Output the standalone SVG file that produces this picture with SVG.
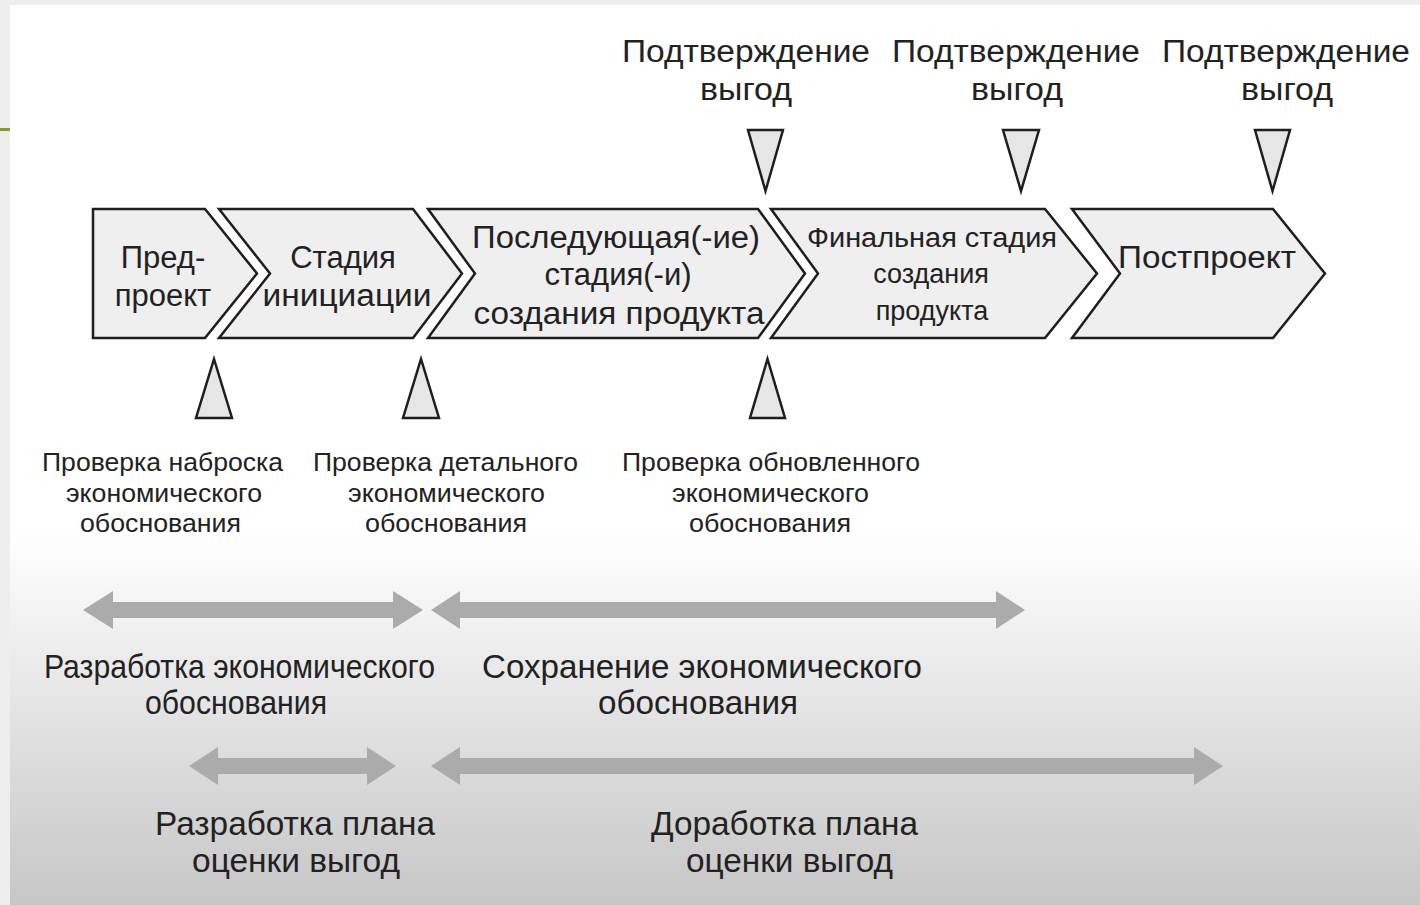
<svg xmlns="http://www.w3.org/2000/svg" width="1420" height="905" viewBox="0 0 1420 905">
<defs>
<linearGradient id="bg" x1="0" y1="530" x2="0" y2="905" gradientUnits="userSpaceOnUse">
<stop offset="0" stop-color="#ffffff"/>
<stop offset="1" stop-color="#c6c6c6"/>
</linearGradient>
<style>
.stage{fill:#efefef;stroke:#1e1e1e;stroke-width:2.5;stroke-linejoin:miter}
.tri{fill:#e6e6e6;stroke:#1e1e1e;stroke-width:2.5;stroke-linejoin:miter}
.arr{fill:#ababab}
text{font-family:"Liberation Sans",Arial,sans-serif;fill:#222;text-anchor:middle}
.st{font-size:31px}
.top{font-size:31px}
.chk{font-size:25px}
.mid{font-size:34px}
</style>
</defs>
<rect x="0" y="0" width="1420" height="905" fill="url(#bg)"/>
<rect x="0" y="0" width="10" height="905" fill="#eeeeee"/>
<rect x="0" y="0" width="1420" height="5" fill="#eeeeee"/>
<rect x="0" y="128" width="10" height="3" fill="#8a9a2a"/>

<g id="stage-preproject">
<polygon class="stage" points="93,209 205,209 257,273.5 205,338 93,338"/>
<text class="st" x="163" y="268">Пред-</text>
<text class="st" x="163" y="306">проект</text>
</g>
<g id="stage-initiation">
<polygon class="stage" points="219,209 413,209 462,273.5 413,338 219,338 270,273.5"/>
<text class="st" x="343" y="268">Стадия</text>
<text class="st" x="347" y="306" textLength="169" lengthAdjust="spacingAndGlyphs">инициации</text>
</g>
<g id="stage-subsequent">
<polygon class="stage" points="428,209 758,209 805,273.5 758,338 428,338 475,273.5"/>
<text class="st" x="616" y="248" textLength="288" lengthAdjust="spacingAndGlyphs">Последующая(-ие)</text>
<text class="st" x="618" y="285">стадия(-и)</text>
<text class="st" x="619" y="324" textLength="291" lengthAdjust="spacingAndGlyphs">создания продукта</text>
</g>
<g id="stage-final">
<polygon class="stage" points="771,209 1045,209 1097,273.5 1045,338 771,338 818,273.5"/>
<text x="932" y="247" font-size="27" textLength="250" lengthAdjust="spacingAndGlyphs">Финальная стадия</text>
<text x="931" y="283" font-size="27">создания</text>
<text x="932" y="320" font-size="27">продукта</text>
</g>
<g id="stage-postproject">
<polygon class="stage" points="1072,209 1273,209 1325,273.5 1273,338 1072,338 1120,273.5"/>
<text class="st" x="1207" y="268" textLength="178" lengthAdjust="spacingAndGlyphs">Постпроект</text>
</g>

<g id="benefit-1">
<polygon class="tri" points="748,130 783,130 765.5,191"/>
<text class="top" x="746" y="62" textLength="248" lengthAdjust="spacingAndGlyphs">Подтверждение</text>
<text class="top" x="746" y="100" textLength="92" lengthAdjust="spacingAndGlyphs">выгод</text>
</g>
<g id="benefit-2">
<polygon class="tri" points="1003,130 1039,130 1021,191"/>
<text class="top" x="1016" y="62" textLength="248" lengthAdjust="spacingAndGlyphs">Подтверждение</text>
<text class="top" x="1017" y="100" textLength="92" lengthAdjust="spacingAndGlyphs">выгод</text>
</g>
<g id="benefit-3">
<polygon class="tri" points="1255,130 1290,130 1272.5,191"/>
<text class="top" x="1286" y="62" textLength="248" lengthAdjust="spacingAndGlyphs">Подтверждение</text>
<text class="top" x="1287" y="100" textLength="92" lengthAdjust="spacingAndGlyphs">выгод</text>
</g>

<g id="check-1">
<polygon class="tri" points="214,359 232,418 196,418"/>
<text class="chk" x="162.5" y="471" textLength="241" lengthAdjust="spacingAndGlyphs">Проверка наброска</text>
<text class="chk" x="164" y="502" textLength="196" lengthAdjust="spacingAndGlyphs">экономического</text>
<text class="chk" x="160.5" y="532" textLength="161" lengthAdjust="spacingAndGlyphs">обоснования</text>
</g>
<g id="check-2">
<polygon class="tri" points="421,359 439,418 403,418"/>
<text class="chk" x="445.5" y="471" textLength="265" lengthAdjust="spacingAndGlyphs">Проверка детального</text>
<text class="chk" x="446.5" y="502" textLength="197" lengthAdjust="spacingAndGlyphs">экономического</text>
<text class="chk" x="446" y="532" textLength="162" lengthAdjust="spacingAndGlyphs">обоснования</text>
</g>
<g id="check-3">
<polygon class="tri" points="767.5,359 785,418 750,418"/>
<text class="chk" x="771" y="471" textLength="298" lengthAdjust="spacingAndGlyphs">Проверка обновленного</text>
<text class="chk" x="770.5" y="502" textLength="197" lengthAdjust="spacingAndGlyphs">экономического</text>
<text class="chk" x="770" y="532" textLength="162" lengthAdjust="spacingAndGlyphs">обоснования</text>
</g>

<g id="connectors">
<polygon class="arr" points="83,610 113,591 113,602 393,602 393,591 423,610 393,629 393,618 113,618 113,629"/>
<polygon class="arr" points="431,610 460,591 460,602 996,602 996,591 1025,610 996,629 996,618 460,618 460,629"/>
<polygon class="arr" points="189,766 218,747 218,758 367,758 367,747 396,766 367,785 367,774 218,774 218,785"/>
<polygon class="arr" points="431,766 460,747 460,758 1194,758 1194,747 1223,766 1194,785 1194,774 460,774 460,785"/>
</g>

<g id="label-dev-case">
<text class="mid" x="239.5" y="678" textLength="391" lengthAdjust="spacingAndGlyphs">Разработка экономического</text>
<text class="mid" x="236" y="714" textLength="182" lengthAdjust="spacingAndGlyphs">обоснования</text>
</g>
<g id="label-keep-case">
<text class="mid" x="702" y="678" textLength="440" lengthAdjust="spacingAndGlyphs">Сохранение экономического</text>
<text class="mid" x="698" y="714" textLength="200" lengthAdjust="spacingAndGlyphs">обоснования</text>
</g>
<g id="label-dev-plan">
<text class="mid" x="295" y="835" textLength="280" lengthAdjust="spacingAndGlyphs">Разработка плана</text>
<text class="mid" x="296" y="872" textLength="208" lengthAdjust="spacingAndGlyphs">оценки выгод</text>
</g>
<g id="label-refine-plan">
<text class="mid" x="784.5" y="835" textLength="267" lengthAdjust="spacingAndGlyphs">Доработка плана</text>
<text class="mid" x="789.5" y="872" textLength="207" lengthAdjust="spacingAndGlyphs">оценки выгод</text>
</g>
</svg>
